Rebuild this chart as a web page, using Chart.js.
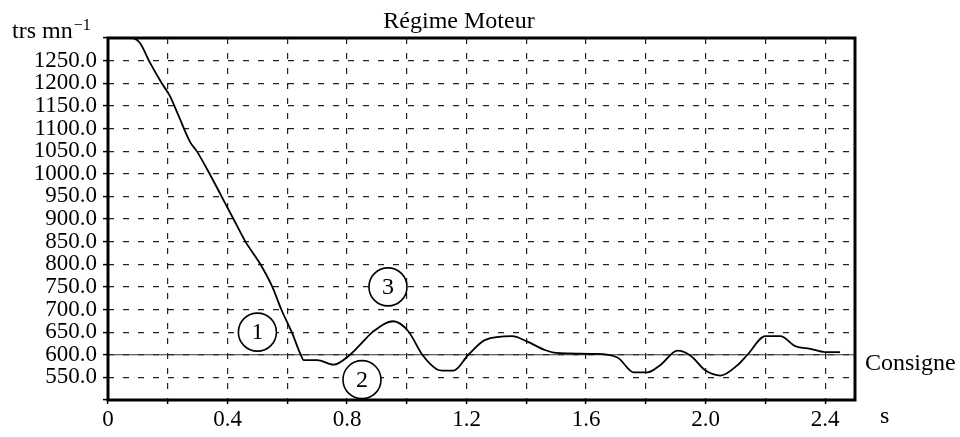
<!DOCTYPE html>
<html>
<head>
<meta charset="utf-8">
<title>Régime Moteur</title>
<script src="https://cdn.jsdelivr.net/npm/chart.js@4.4.0/dist/chart.umd.min.js"></script>
<style>
  html, body { margin: 0; padding: 0; background: #fff; }
  #wrap { width: 960px; height: 437px; position: relative; }
</style>
</head>
<body>
<div id="wrap"><canvas id="c" width="960" height="437"></canvas></div>
<script>
// Engine speed response (trs/mn) against time (s)
const timeS = [0, 0.08, 0.107, 0.14, 0.18, 0.207, 0.235, 0.275, 0.297, 0.34, 0.38, 0.42, 0.46, 0.51, 0.55, 0.58,
  0.615, 0.645, 0.655, 0.70, 0.755, 0.81, 0.855, 0.885, 0.955, 1.005, 1.052, 1.10, 1.12, 1.157, 1.206, 1.263,
  1.353, 1.40, 1.46, 1.50, 1.625, 1.705, 1.76, 1.805, 1.85, 1.906, 1.95, 2.0, 2.05, 2.105, 2.14, 2.2, 2.25,
  2.30, 2.35, 2.40, 2.45];
const regime = [1300, 1300, 1289, 1246, 1200, 1172, 1130, 1070, 1050, 1000, 950, 900, 850, 800, 750, 700,
  650, 600, 588, 588, 578, 600, 630, 650, 674, 652, 600, 568, 565, 565, 600, 633,
  641, 630, 611, 604, 602, 594, 561, 561, 578, 609, 598, 565, 554, 576, 600, 641, 641,
  619, 613, 606, 606];

// Set point line
const consigneTime = [0, 2.5];
const consigneValue = [600, 600];

// Axis labels
const xLabelValues = [0, 0.4, 0.8, 1.2, 1.6, 2.0, 2.4];
const xLabelTexts = ['0', '0.4', '0.8', '1.2', '1.6', '2.0', '2.4'];
const yLabelValues = [550, 600, 650, 700, 750, 800, 850, 900, 950, 1000, 1050, 1100, 1150, 1200, 1250];
const yLabelTexts = ['550.0', '600.0', '650.0', '700.0', '750.0', '800.0', '850.0', '900.0', '950.0',
  '1000.0', '1050.0', '1100.0', '1150.0', '1200.0', '1250.0'];

// Circled phase markers, placed in data units
const phaseMarks = [
  { text: '1', x: 0.50, y: 650 },
  { text: '2', x: 0.85, y: 545 },
  { text: '3', x: 0.937, y: 750 }
];

const SERIF = '"Liberation Serif", "Times New Roman", serif';

function labelFor(values, texts, v) {
  const i = values.findIndex(t => Math.abs(t - v) < 1e-6);
  return i >= 0 ? texts[i] : '';
}

const framePlugin = {
  id: 'frame',
  afterDatasetsDraw(chart) {
    const { ctx, chartArea: a } = chart;
    ctx.save();
    ctx.strokeStyle = '#000';
    ctx.lineWidth = 3;
    ctx.strokeRect(a.left, a.top, a.right - a.left, a.bottom - a.top);
    ctx.restore();
  }
};

const textPlugin = {
  id: 'texts',
  afterDraw(chart) {
    const { ctx, scales } = chart;
    const xs = scales.x, ys = scales.y;
    ctx.save();
    ctx.fillStyle = '#000';
    ctx.textBaseline = 'alphabetic';

    // Title
    ctx.font = '24px ' + SERIF;
    ctx.textAlign = 'center';
    ctx.fillText('Régime Moteur', 459, 28);

    // Y unit
    ctx.textAlign = 'left';
    ctx.font = '24px ' + SERIF;
    ctx.fillText('trs mn', 12, 38);
    const w = ctx.measureText('trs mn').width;
    ctx.font = '16px ' + SERIF;
    ctx.fillText('\u22121', 12 + w + 1, 30);

    // X unit
    ctx.font = '24px ' + SERIF;
    ctx.fillText('s', 880, 423);

    // Set point label
    ctx.fillText('Consigne', 865, ys.getPixelForValue(600) + 15);

    // Circled markers (white inside, covering the grid)
    phaseMarks.forEach(m => {
      const cx = xs.getPixelForValue(m.x);
      const cy = ys.getPixelForValue(m.y);
      ctx.beginPath();
      ctx.arc(cx, cy, 19, 0, Math.PI * 2);
      ctx.fillStyle = '#fff';
      ctx.fill();
      ctx.lineWidth = 1.6;
      ctx.strokeStyle = '#000';
      ctx.stroke();
      ctx.fillStyle = '#000';
      ctx.font = '24px ' + SERIF;
      ctx.textAlign = 'center';
      ctx.textBaseline = 'middle';
      ctx.fillText(m.text, cx, cy + 1);
    });
    ctx.restore();
  }
};

new Chart(document.getElementById('c'), {
  type: 'line',
  data: {
    datasets: [
      {
        label: 'Régime',
        data: timeS.map((t, i) => ({ x: t, y: regime[i] })),
        borderColor: '#000',
        borderWidth: 1.8,
        pointRadius: 0,
        cubicInterpolationMode: 'monotone',
        fill: false,
        order: 0
      },
      {
        label: 'Consigne',
        data: consigneTime.map((t, i) => ({ x: t, y: consigneValue[i] })),
        borderColor: '#333',
        borderWidth: 1,
        pointRadius: 0,
        fill: false,
        order: 1
      }
    ]
  },
  options: {
    responsive: false,
    devicePixelRatio: 1,
    animation: false,
    layout: { padding: { top: 38, right: 105, left: 0, bottom: 0 } },
    plugins: {
      legend: { display: false },
      title: { display: false },
      tooltip: { enabled: false }
    },
    scales: {
      x: {
        type: 'linear',
        min: 0,
        max: 2.5,
        afterFit: s => { s.height = 37; },
        ticks: {
          stepSize: 0.2,
          includeBounds: false,
          autoSkip: false,
          maxRotation: 0,
          padding: 2,
          color: '#000',
          font: { family: SERIF, size: 23 },
          callback: v => labelFor(xLabelValues, xLabelTexts, v)
        },
        grid: {
          color: '#222',
          lineWidth: 1.2,
          drawTicks: true,
          tickLength: 4,
          tickColor: '#000',
          tickWidth: 1.5
        },
        border: { display: false, dash: [6, 9] }
      },
      y: {
        type: 'linear',
        min: 500,
        max: 1300,
        afterFit: s => { s.width = 108; },
        ticks: {
          stepSize: 50,
          autoSkip: false,
          padding: 6,
          color: '#000',
          font: { family: SERIF, size: 23 },
          callback: v => labelFor(yLabelValues, yLabelTexts, v)
        },
        grid: {
          color: c => (c.tick && (c.tick.value === 500 || c.tick.value === 1300)) ? 'rgba(0,0,0,0)' : '#222',
          lineWidth: 1.2,
          drawTicks: true,
          tickLength: 5,
          tickColor: '#000',
          tickWidth: 1.5
        },
        border: { display: false, dash: [6, 9] }
      }
    }
  },
  plugins: [framePlugin, textPlugin]
});
</script>
</body>
</html>
